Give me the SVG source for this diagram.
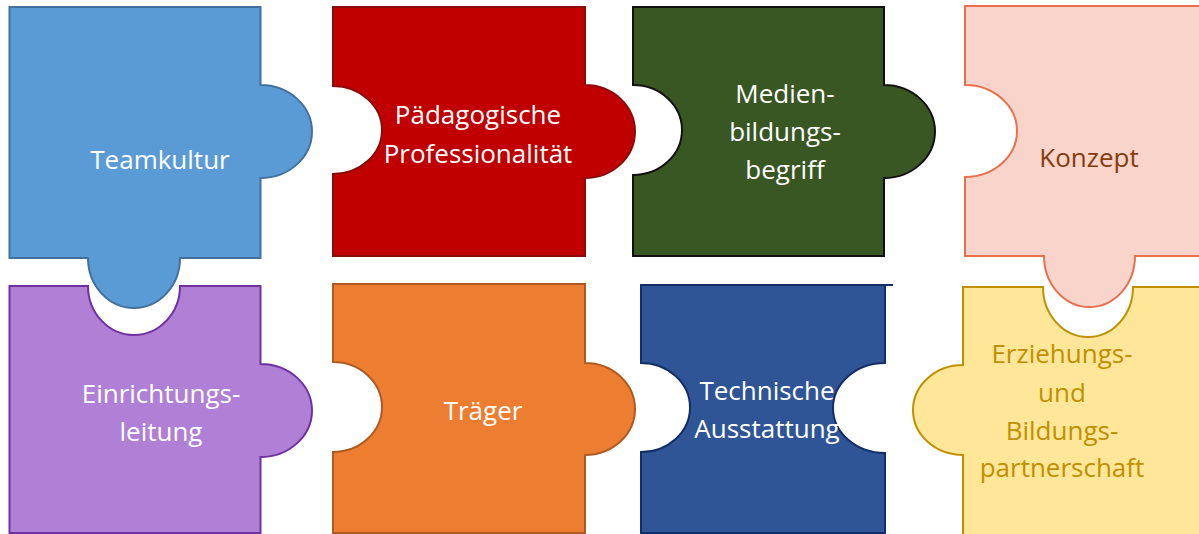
<svg xmlns="http://www.w3.org/2000/svg" width="1199" height="534" viewBox="0 0 1199 534">
<style>
.p{stroke-width:2;stroke-linejoin:miter}
.t{font-family:"Open Sans","Noto Sans","Liberation Sans",sans-serif;font-size:26px;text-anchor:middle;fill:#fff}
</style>
<rect width="1199" height="534" fill="#fff"/>
<g id="teamkultur">
<path class="p" fill="#5B9BD5" stroke="#41719C" d="M9.5,7 H260.5 V85 A51.5,46.5 0 0 1 260.5,178 V258 H180 A46,50 0 0 1 88,258 H9.5 Z"/>
<text class="t" x="160" y="169">Teamkultur</text>
</g>
<g id="paedagogische">
<path class="p" fill="#C00000" stroke="#8C0A0A" d="M333,7 H585 V85 A50,46.5 0 0 1 585,178 V256 H333 V174 A49,44 0 0 0 333,86 Z"/>
<text class="t" x="478" y="124">Pädagogische</text>
<text class="t" x="478" y="163">Professionalität</text>
</g>
<g id="medien">
<path class="p" fill="#385723" stroke="#111" d="M633,7 H884 V85 A51,46.5 0 0 1 884,178 V256 H633 V175 A49,45 0 0 0 633,85 Z"/>
<text class="t" x="785" y="103">Medien-</text>
<text class="t" x="785" y="141">bildungs-</text>
<text class="t" x="785" y="179">begriff</text>
</g>
<g id="konzept">
<path class="p" fill="#F9D4CB" stroke="#E8704F" d="M965,6 H1202 V256 H1135 A45.5,51 0 0 1 1044,256 H965 V177 A52,46 0 0 0 965,85 Z"/>
<text class="t" x="1089" y="167" fill="#843C0C" style="fill:#843C0C">Konzept</text>
</g>
<g id="einrichtungsleitung">
<path class="p" fill="#B07FD6" stroke="#7030A0" d="M9.5,286 H88 A46,49 0 0 0 180,286 H260.5 V364 A51.5,46.5 0 0 1 260.5,457 V533 H9.5 Z"/>
<text class="t" x="161" y="403">Einrichtungs-</text>
<text class="t" x="161" y="441">leitung</text>
</g>
<g id="traeger">
<path class="p" fill="#ED7D31" stroke="#AE5A21" d="M333,284 H585 V363 A50,46 0 0 1 585,455 V533 H333 V452 A49,45 0 0 0 333,362 Z"/>
<text class="t" x="483" y="420">Träger</text>
</g>
<g id="technische">
<path class="p" fill="#2F5597" stroke="#132E66" d="M641,285 H885 V363 A52,45 0 0 0 885,453 V533 H641 V452 A49,44.5 0 0 0 641,363 Z"/>
<line x1="885" y1="285" x2="893" y2="285" stroke="#132E66" stroke-width="2"/>
<text class="t" x="767" y="400">Technische</text>
<text class="t" x="767" y="438">Ausstattung</text>
</g>
<g id="erziehung">
<path class="p" fill="#FFE699" stroke="#BF9000" d="M963,287 H1043 A45,50 0 0 0 1133,287 H1202 V536 H963 V455 A50,45 0 0 1 963,365 Z"/>
<text class="t" x="1062" y="363" style="fill:#BF9000">Erziehungs-</text>
<text class="t" x="1062" y="402" style="fill:#BF9000">und</text>
<text class="t" x="1062" y="440" style="fill:#BF9000">Bildungs-</text>
<text class="t" x="1062" y="477" style="fill:#BF9000">partnerschaft</text>
</g>
<g id="connectors"/>
</svg>
